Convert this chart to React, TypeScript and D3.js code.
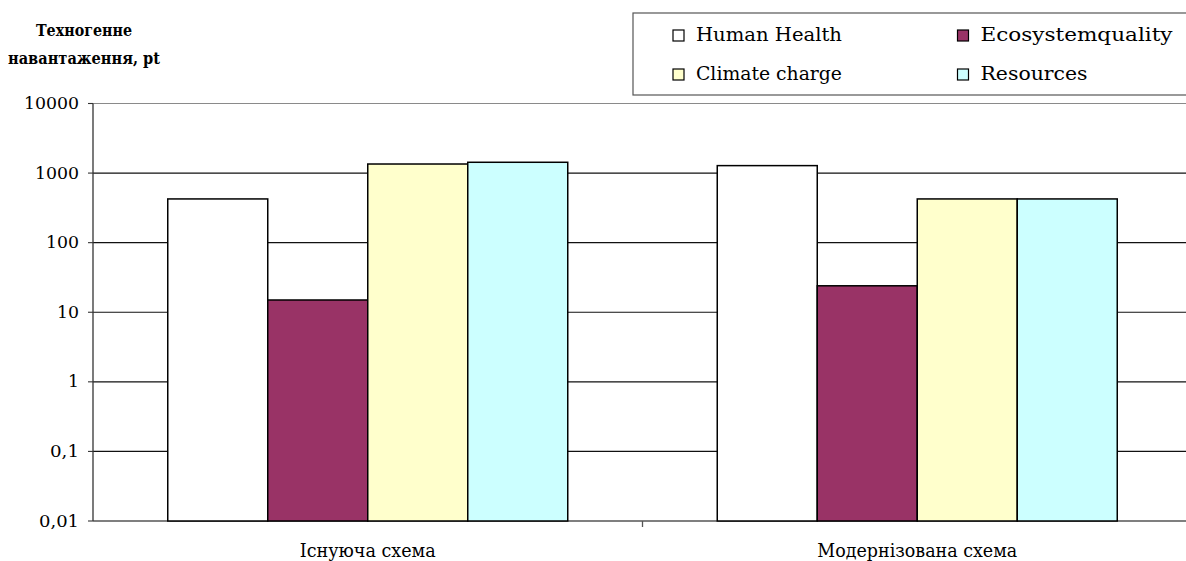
import React from "react";
import * as d3 from "d3";

const categories = ["Існуюча схема", "Модернізована схема"];
const seriesNames = ["Human Health", "Ecosystemquality", "Climate charge", "Resources"];
const seriesColors = ["#FFFFFF", "#993366", "#FFFFCC", "#CCFFFF"];
const existingValues = [425, 15, 1350, 1430];
const modernValues = [1280, 24, 425, 425];
const tickValues = [0.01, 0.1, 1, 10, 100, 1000, 10000];
const tickLabels = ["0,01", "0,1", "1", "10", "100", "1000", "10000"];
const yTitle = ["Техногенне", "навантаження, pt"];

const W = 1186;
const H = 561;
const left = 93;
const right = 1192;
const top = 103.5;
const bottom = 521;
const FONT = "'DejaVu Serif', 'Liberation Serif', serif";

export default function App() {
  const values = [existingValues, modernValues];
  const y = d3.scaleLog().domain([0.01, 10000]).range([bottom, top]);
  const x0 = d3.scaleBand<string>().domain(categories).range([left, right]).padding(0);
  const x1 = d3
    .scaleBand<string>()
    .domain(seriesNames)
    .range([0, x0.bandwidth()])
    .paddingInner(0)
    .paddingOuter(0.7475);

  const labelWidth = (s: string) => {
    let w = 0;
    for (const c of s) w += c === "," ? 7 : 11;
    return w;
  };

  const legendCols = [673, 957.5];
  const legendRows = [30, 69];
  const catWidths = [136, 200];
  const ts: React.CSSProperties = { fontFamily: FONT };

  return (
    <svg
      width={W}
      height={H}
      style={{ position: "absolute", left: 0, top: 0, background: "#fff", fontFamily: FONT }}
    >
      <rect x={0} y={0} width={W} height={H} fill="#fff" />
      {tickValues.map((t, i) => (
        <line
          key={"g" + i}
          x1={left}
          x2={right}
          y1={y(t)}
          y2={y(t)}
          stroke={i === tickValues.length - 1 ? "#8a8a8a" : i === 0 ? "#555" : "#111"}
          strokeWidth={i === 0 ? 1.6 : 1.1}
        />
      ))}
      <line x1={left} x2={left} y1={top} y2={bottom} stroke="#333" strokeWidth={1.3} />
      {tickValues.map((t, i) => (
        <g key={"t" + i}>
          <line x1={left - 5} x2={left} y1={y(t)} y2={y(t)} stroke="#333" strokeWidth={1.1} />
          <text
            x={79}
            y={y(t) + 5.5}
            textAnchor="end"
            fontSize={16}
            textLength={labelWidth(tickLabels[i])}
            lengthAdjust="spacingAndGlyphs"
            fill="#000"
            style={ts}
          >
            {tickLabels[i]}
          </text>
        </g>
      ))}
      <line
        x1={x0(categories[1])!}
        x2={x0(categories[1])!}
        y1={bottom}
        y2={bottom + 6}
        stroke="#555"
        strokeWidth={1.3}
      />
      {categories.map((c, ci) => (
        <g key={c} transform={`translate(${x0(c)},0)`}>
          {seriesNames.map((s, si) => (
            <rect
              key={s}
              x={x1(s)!}
              width={x1.bandwidth()}
              y={y(values[ci][si])}
              height={bottom - y(values[ci][si])}
              fill={seriesColors[si]}
              stroke="#000"
              strokeWidth={1.5}
            />
          ))}
        </g>
      ))}
      {categories.map((c, ci) => (
        <text
          key={"c" + c}
          x={x0(c)! + x0.bandwidth() / 2}
          y={557}
          textAnchor="middle"
          fontSize={19}
          textLength={catWidths[ci]}
          lengthAdjust="spacingAndGlyphs"
          fill="#000"
          style={ts}
        >
          {c}
        </text>
      ))}
      <text
        x={84}
        y={36}
        textAnchor="middle"
        fontSize={16}
        fontWeight="bold"
        textLength={96}
        lengthAdjust="spacingAndGlyphs"
        fill="#000"
        style={ts}
      >
        {yTitle[0]}
      </text>
      <text
        x={84}
        y={64}
        textAnchor="middle"
        fontSize={16}
        fontWeight="bold"
        textLength={152}
        lengthAdjust="spacingAndGlyphs"
        fill="#000"
        style={ts}
      >
        {yTitle[1]}
      </text>
      <rect x={633} y={13} width={600} height={82} fill="#fff" stroke="#555" strokeWidth={1.2} />
      {seriesNames.map((s, si) => {
        const col = si % 2;
        const row = Math.floor(si / 2);
        const sx = legendCols[col];
        const sy = legendRows[row];
        const widths = [146, 192, 146, 107];
        return (
          <g key={"l" + s}>
            <rect x={sx} y={sy} width={11} height={11} fill={seriesColors[si]} stroke="#000" strokeWidth={1.2} />
            <text
              x={sx + 23}
              y={sy + 11}
              fontSize={19}
              textLength={widths[si]}
              lengthAdjust="spacingAndGlyphs"
              fill="#000"
              style={ts}
            >
              {s}
            </text>
          </g>
        );
      })}
    </svg>
  );
}
